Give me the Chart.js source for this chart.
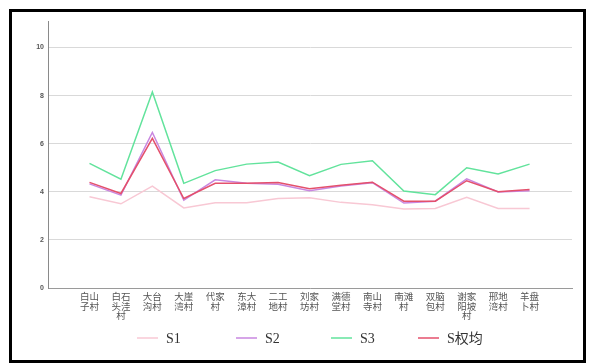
<!DOCTYPE html>
<html>
<head>
<meta charset="utf-8">
<script src="https://cdn.jsdelivr.net/npm/chart.js@4/dist/chart.umd.min.js"></script>
<style>
  html, body { margin: 0; padding: 0; background: #fff; }
  #frame {
    position: absolute; left: 9px; top: 9px;
    width: 571px; height: 348px;
    border: 3px solid #000;
  }
  #wrap { position: relative; width: 571px; height: 348px; }
</style>
</head>
<body>
<div id="frame"><div id="wrap"><canvas id="lineChart"></canvas></div></div>
<script>
// villages along the x axis
const villages = [
  "白山子村", "白石头洼村", "大台沟村", "大崖湾村", "代家村",
  "东大漳村", "二工地村", "刘家坊村", "满德堂村", "南山寺村",
  "南滩村", "双脑包村", "谢家阳坡村", "邢地湾村", "羊盘卜村"
];

// series values
const s1 = [3.79, 3.50, 4.24, 3.33, 3.54, 3.54, 3.72, 3.75, 3.56, 3.46, 3.28, 3.31, 3.77, 3.31, 3.31];
const s2 = [4.33, 3.86, 6.47, 3.65, 4.50, 4.35, 4.31, 4.04, 4.24, 4.38, 3.53, 3.61, 4.54, 3.99, 4.04];
const s3 = [5.18, 4.52, 8.15, 4.35, 4.88, 5.15, 5.24, 4.67, 5.14, 5.29, 4.03, 3.88, 5.00, 4.74, 5.15];
const sAvg = [4.39, 3.93, 6.22, 3.72, 4.35, 4.35, 4.39, 4.13, 4.27, 4.40, 3.61, 3.61, 4.46, 4.00, 4.10];

const yTicks = [0, 2, 4, 6, 8, 10];

const seriesNames = ["S1", "S2", "S3", "S权均"];
const seriesColors = ["#f8c8d4", "#c987e0", "#62e39c", "#e4506c"];

// break a name into two-character rows
function splitName(name) {
  const rows = [];
  for (let i = 0; i < name.length; i += 2) rows.push(name.slice(i, i + 2));
  return rows;
}

function toPoints(values) {
  return values.map((v, i) => ({ x: i, y: v }));
}

// legend drawn below the axis labels
const bottomLegend = {
  id: "bottomLegend",
  afterDraw(chart, args, opts) {
    const ctx = chart.ctx;
    ctx.save();
    ctx.font = "14px 'Liberation Serif', 'Noto Sans CJK SC', serif";
    ctx.textBaseline = "middle";
    chart.data.datasets.forEach((ds, i) => {
      const x = opts.starts[i];
      ctx.strokeStyle = ds.borderColor;
      ctx.lineWidth = 1.5;
      ctx.beginPath();
      ctx.moveTo(x, opts.y);
      ctx.lineTo(x + 21, opts.y);
      ctx.stroke();
      ctx.fillStyle = "#333";
      ctx.fillText(ds.label, x + 29, opts.y + 1);
    });
    ctx.restore();
  },
};

const ctx = document.getElementById("lineChart").getContext("2d");
new Chart(ctx, {
  type: "line",
  data: {
    datasets: [s1, s2, s3, sAvg].map((vals, i) => ({
      label: seriesNames[i],
      data: toPoints(vals),
      borderColor: seriesColors[i],
      backgroundColor: seriesColors[i],
      borderWidth: 1.5,
      pointRadius: 0,
      tension: 0,
      fill: false,
      order: 3 - i,
    })),
  },
  options: {
    responsive: true,
    maintainAspectRatio: false,
    animation: false,
    layout: { padding: { top: 9, right: 11, bottom: 0, left: 0 } },
    plugins: {
      legend: { display: false },
      tooltip: { enabled: false },
      bottomLegend: { y: 326, starts: [125, 224, 319, 406] },
    },
    scales: {
      x: {
        type: "linear",
        min: -1.32,
        max: 15.35,
        afterBuildTicks: (scale) => {
          scale.ticks = villages.map((_, i) => ({ value: i }));
        },
        afterFit: (scale) => { scale.height = 72; },
        grid: { display: false, drawTicks: false },
        border: { display: true, color: "#9a9a9a", width: 1 },
        ticks: {
          autoSkip: false,
          maxRotation: 0,
          padding: 4,
          color: "#555",
          font: { family: "'Noto Sans CJK SC', sans-serif", size: 9.5, lineHeight: 1.0 },
          callback: (v) => splitName(villages[v] || ""),
        },
      },
      y: {
        min: 0,
        max: 11.1,
        afterBuildTicks: (scale) => {
          scale.ticks = yTicks.map((v) => ({ value: v }));
        },
        afterFit: (scale) => { scale.width = 36; },
        grid: { color: "#d9d9d9", lineWidth: 1, drawTicks: false },
        border: { display: true, color: "#8a8a8a", width: 1 },
        ticks: {
          padding: 4,
          color: "#555",
          font: { family: "'Liberation Sans', Arial, sans-serif", size: 7, weight: "bold" },
        },
      },
    },
  },
  plugins: [bottomLegend],
});
</script>
</body>
</html>
